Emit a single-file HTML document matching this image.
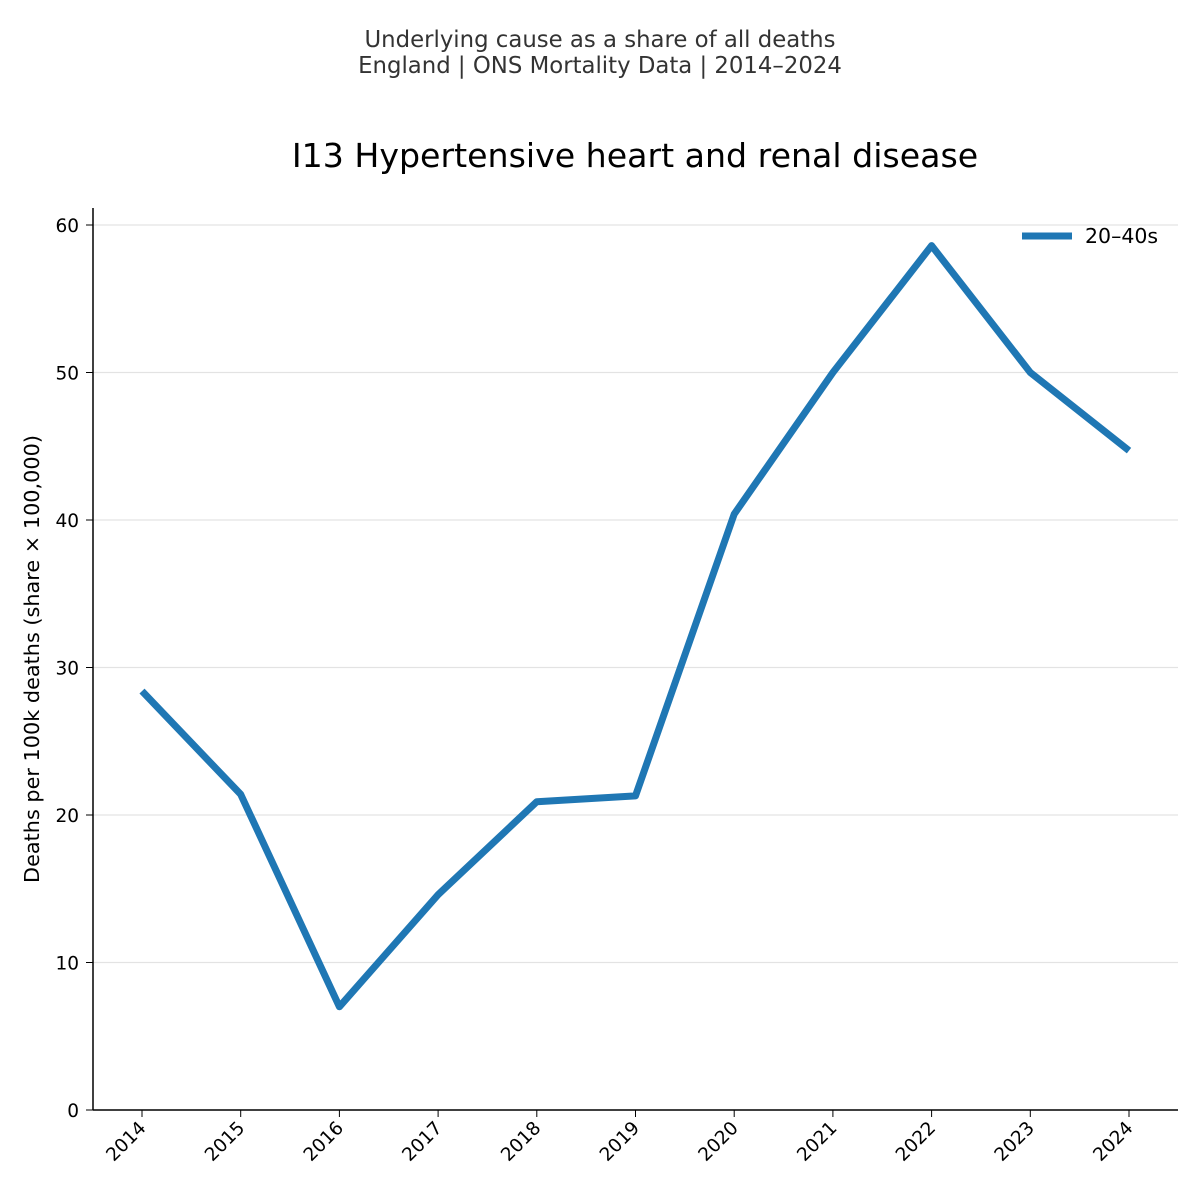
<!DOCTYPE html>
<html><head><meta charset="utf-8"><style>
html,body{margin:0;padding:0;background:#fff;overflow:hidden;width:1200px;height:1200px;}
svg{display:block;}
svg text{font-family:"DejaVu Sans","Liberation Sans",sans-serif;}
</style></head><body>
<svg id="chart" width="1200" height="1200" viewBox="0 0 1200 1200">
<rect width="1200" height="1200" fill="#fff"/>
<text x="600" y="47" text-anchor="middle" font-size="22.8" fill="#333">Underlying cause as a share of all deaths</text>
<text x="600" y="73" text-anchor="middle" font-size="22.8" fill="#333">England | ONS Mortality Data | 2014–2024</text>
<text x="635" y="167" text-anchor="middle" font-size="33.2" fill="#000">I13 Hypertensive heart and renal disease</text>
<g id="grid"></g>
<g id="yticks"></g>
<g id="xticks"></g>
<path id="series" fill="none" stroke="#1f77b4" stroke-width="7" stroke-linejoin="round"/>
<line x1="93" y1="208" x2="93" y2="1110" stroke="#000" stroke-width="1.5"/>
<line x1="93" y1="1110" x2="1178" y2="1110" stroke="#000" stroke-width="1.5"/>
<text transform="translate(39,659) rotate(-90)" text-anchor="middle" font-size="20.8" fill="#000">Deaths per 100k deaths (share × 100,000)</text>
<g>
<line x1="1022" y1="236" x2="1072" y2="236" stroke="#1f77b4" stroke-width="7"/>
<text x="1085" y="243" font-size="20.5" fill="#000">20–40s</text>
</g>
</svg>
<script>
const years=["2014","2015","2016","2017","2018","2019","2020","2021","2022","2023","2024"];
const values=[28.4,21.4,7.0,14.6,20.9,21.3,40.4,50.0,58.6,50.0,44.7];
const yTicks=[0,10,20,30,40,50,60];
const NS="http://www.w3.org/2000/svg";
const xs=i=>142+i*(1129-142)/(years.length-1);
const ys=v=>1110-v*(1110-225)/60;
const grid=document.getElementById('grid'),yt=document.getElementById('yticks'),xt=document.getElementById('xticks');
yTicks.forEach(t=>{
 if(t>0){const g=document.createElementNS(NS,'line');
 
 
 g.setAttribute('x1',93);g.setAttribute('x2',1178);g.setAttribute('y1',ys(t));g.setAttribute('y2',ys(t));
 g.setAttribute('stroke','#e3e3e3');g.setAttribute('stroke-width','1.2');grid.appendChild(g);}
 const k=document.createElementNS(NS,'line');
 
 
 k.setAttribute('x1',86);k.setAttribute('x2',93);k.setAttribute('y1',ys(t));k.setAttribute('y2',ys(t));k.setAttribute('stroke','#000');yt.appendChild(k);
 const l=document.createElementNS(NS,'text');
 
 
 l.setAttribute('x',79);l.setAttribute('y',ys(t)+7);l.setAttribute('text-anchor','end');l.setAttribute('font-size','18.5');l.textContent=t;yt.appendChild(l);
});
years.forEach((y,i)=>{
 const k=document.createElementNS(NS,'line');
 
 
 k.setAttribute('x1',xs(i));k.setAttribute('x2',xs(i));k.setAttribute('y1',1110);k.setAttribute('y2',1117);k.setAttribute('stroke','#000');xt.appendChild(k);
 const l=document.createElementNS(NS,'text');
 
 
 l.setAttribute('transform','translate('+(xs(i)+5)+',1129) rotate(-45)');l.setAttribute('text-anchor','end');l.setAttribute('font-size','18.5');l.textContent=y;xt.appendChild(l);
});
document.getElementById('series').setAttribute('d',values.map((v,i)=>(i?'L':'M')+xs(i)+','+ys(v)).join(' '));
</script>
</body></html>
